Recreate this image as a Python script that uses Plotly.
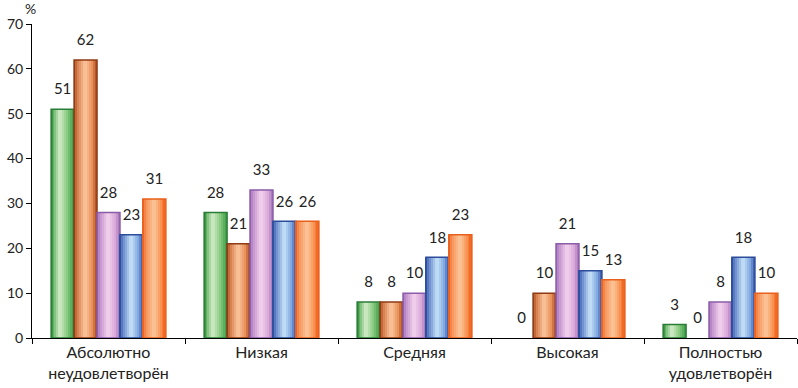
import plotly.graph_objects as go

categories = ["Абсолютно<br>неудовлетворён", "Низкая", "Средняя", "Высокая", "Полностью<br>удовлетворён"]
series_names = ["Серия 1", "Серия 2", "Серия 3", "Серия 4", "Серия 5"]
s1 = [51, 28, 8, 0, 3]
s2 = [62, 21, 8, 10, 0]
s3 = [28, 33, 10, 21, 8]
s4 = [23, 26, 18, 15, 18]
s5 = [31, 26, 23, 13, 10]
series_values = [s1, s2, s3, s4, s5]
y_ticks = [0, 10, 20, 30, 40, 50, 60, 70]

gradients = [
    [(0, "#2f8a3c"), (0.15, "#6cb86a"), (0.4, "#d4eccb"), (0.7, "#8ccc84"), (1, "#3a9a44")],
    [(0, "#a0441c"), (0.2, "#d88050"), (0.5, "#fcc8a0"), (0.8, "#e8905a"), (1, "#a84818")],
    [(0, "#9868b4"), (0.2, "#c898d0"), (0.5, "#f4d4ee"), (0.8, "#d8a8d8"), (1, "#a070b8")],
    [(0, "#3050a4"), (0.2, "#7090d0"), (0.5, "#c8e4f8"), (0.8, "#80a8e0"), (1, "#3454a8")],
    [(0, "#f06420"), (0.2, "#f89860"), (0.5, "#fcc89c"), (0.8, "#f89050"), (1, "#f06018")],
]
outlines = ["#2a7d36", "#8e3a14", "#8c5ca8", "#2c4c9c", "#e8601c"]


def hex2rgb(h):
    h = h.lstrip("#")
    return [int(h[i:i + 2], 16) for i in (0, 2, 4)]


def interp(stops, t):
    for (p0, c0), (p1, c1) in zip(stops[:-1], stops[1:]):
        if p0 <= t <= p1:
            f = (t - p0) / (p1 - p0) if p1 > p0 else 0
            a, b = hex2rgb(c0), hex2rgb(c1)
            return "rgb(%d,%d,%d)" % tuple(round(a[i] + (b[i] - a[i]) * f) for i in range(3))
    return stops[-1][1]


group_w = 0.75
bar_w = group_w / len(series_values)
n_strips = 12
strip_w = bar_w / n_strips
FONT = "Lato, Liberation Sans, sans-serif"

fig = go.Figure()
for i, vals in enumerate(series_values):
    left = -group_w / 2 + i * bar_w
    for k in range(n_strips):
        t = (k + 0.5) / n_strips
        fig.add_trace(go.Bar(
            x=categories, y=vals, width=strip_w, offset=left + k * strip_w,
            marker=dict(color=interp(gradients[i], t), line=dict(width=0)),
            showlegend=False, hoverinfo="skip",
        ))
    fig.add_trace(go.Bar(
        x=categories, y=vals, width=bar_w, offset=left, name=series_names[i],
        marker=dict(color="rgba(0,0,0,0)",
                    line=dict(color=[outlines[i] if v > 0 else "rgba(0,0,0,0)" for v in vals], width=1.5)),
        showlegend=False,
    ))

# value labels on a hidden numeric axis aligned with the category axis
for i, vals in enumerate(series_values):
    centre = -group_w / 2 + (i + 0.5) * bar_w
    fig.add_trace(go.Scatter(
        x=[j + centre for j in range(len(categories))], y=vals, xaxis="x2",
        mode="text+markers",
        marker=dict(size=16, color="rgba(0,0,0,0)"),
        text=[str(v) for v in vals], textposition="top center",
        textfont=dict(family=FONT, size=15, color="#222"),
        cliponaxis=False, showlegend=False, hoverinfo="skip",
    ))

fig.add_annotation(
    text="%", xref="paper", yref="paper", x=-0.002, y=1.05, xanchor="center", yanchor="middle",
    showarrow=False, font=dict(family=FONT, size=14, color="#222"),
)

fig.update_layout(
    width=798, height=388,
    margin=dict(l=32, r=1, t=24, b=50, autoexpand=False),
    plot_bgcolor="white", paper_bgcolor="white",
    barmode="overlay",
    font=dict(family=FONT, size=14, color="#222"),
    xaxis=dict(
        type="category", range=[-0.5, 4.5], showgrid=False, showline=True, linecolor="#000",
        linewidth=1, ticks="outside", tickson="boundaries", ticklen=5, tickcolor="#000",
        tickfont=dict(size=16, color="#222"), automargin=False,
    ),
    xaxis2=dict(
        range=[-0.5, 4.5], overlaying="x", anchor="y", visible=False, automargin=False,
    ),
    yaxis=dict(
        range=[0, 70], tickvals=y_ticks, showgrid=False, showline=True, linecolor="#000",
        linewidth=1, ticks="outside", ticklen=5, tickcolor="#000", zeroline=False,
        tickfont=dict(size=14, color="#222"), automargin=False,
    ),
)

fig.write_html("out.html", config={"displayModeBar": False},
               post_script="document.body.style.margin='0';")
